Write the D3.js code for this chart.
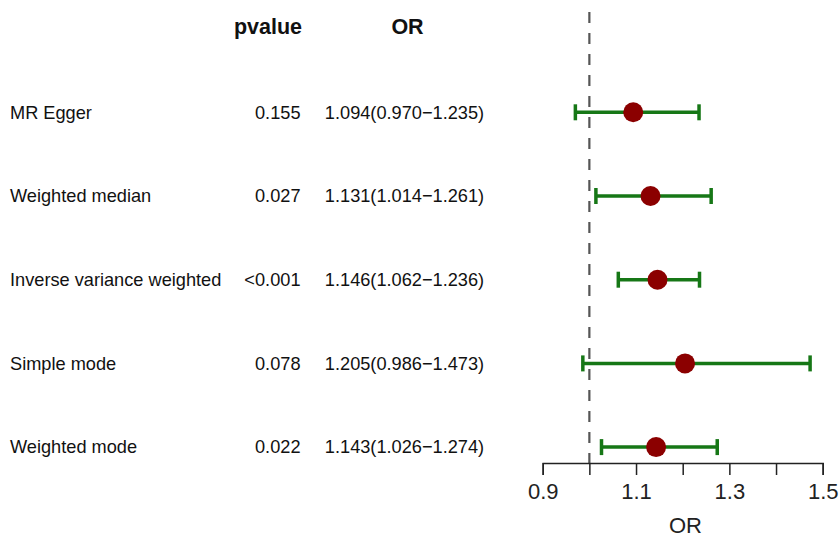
<!DOCTYPE html>
<html><head><meta charset="utf-8">
<script src="https://cdn.jsdelivr.net/npm/d3@7"></script>
<style>body{margin:0;background:#fff}svg{display:block}text{font-family:"Liberation Sans",Arial,sans-serif}</style>
</head><body>
<svg id="chart" width="840" height="539"></svg>
<script>
const methods = ["MR Egger","Weighted median","Inverse variance weighted","Simple mode","Weighted mode"];
const pvalues = ["0.155","0.027","<0.001","0.078","0.022"];
const orValues = [1.094,1.131,1.146,1.205,1.143];
const lowerCI = [0.970,1.014,1.062,0.986,1.026];
const upperCI = [1.235,1.261,1.236,1.473,1.274];
const tickValues = [0.9,1.0,1.1,1.2,1.3,1.4,1.5];
const tickLabels = ["0.9","","1.1","","1.3","","1.5"];

const svg = d3.select("#chart");
const x = d3.scaleLinear().domain([0.9,1.5]).range([542.7,822.7]);
const y = d3.scalePoint().domain(methods).range([112.3,447.1]);
const axisY = 463;

// headers
svg.append("text").attr("x",302).attr("y",33.5).attr("text-anchor","end")
  .attr("font-size",21.5).attr("font-weight","bold").attr("fill","#111").text("pvalue");
svg.append("text").attr("x",407.5).attr("y",33.5).attr("text-anchor","middle")
  .attr("font-size",21.5).attr("font-weight","bold").attr("fill","#111").text("OR");

// reference line
svg.append("line").attr("x1",x(1)).attr("x2",x(1)).attr("y1",12).attr("y2",axisY)
  .attr("stroke","#555").attr("stroke-width",2.2).attr("stroke-dasharray","11,10");

const rows = svg.selectAll("g.row").data(methods).join("g").attr("class","row");
rows.append("text").attr("x",10).attr("y",d=>y(d)+6.3).attr("font-size",18.2).attr("fill","#111").text(d=>d);
rows.append("text").attr("x",300.5).attr("y",d=>y(d)+6.3).attr("text-anchor","end")
  .attr("font-size",18.2).attr("fill","#111").text((d,i)=>pvalues[i]);
rows.append("text").attr("x",404.5).attr("y",d=>y(d)+6.3).attr("text-anchor","middle")
  .attr("font-size",18.2).attr("fill","#111")
  .text((d,i)=>orValues[i].toFixed(3)+"("+lowerCI[i].toFixed(3)+"\u2212"+upperCI[i].toFixed(3)+")");

const green = "#167716";
rows.append("line").attr("x1",(d,i)=>x(lowerCI[i])).attr("x2",(d,i)=>x(upperCI[i]))
  .attr("y1",d=>y(d)).attr("y2",d=>y(d)).attr("stroke",green).attr("stroke-width",3.5);
rows.append("line").attr("x1",(d,i)=>x(lowerCI[i])).attr("x2",(d,i)=>x(lowerCI[i]))
  .attr("y1",d=>y(d)-8).attr("y2",d=>y(d)+8).attr("stroke",green).attr("stroke-width",3.5);
rows.append("line").attr("x1",(d,i)=>x(upperCI[i])).attr("x2",(d,i)=>x(upperCI[i]))
  .attr("y1",d=>y(d)-8).attr("y2",d=>y(d)+8).attr("stroke",green).attr("stroke-width",3.5);
rows.append("circle").attr("cx",(d,i)=>x(orValues[i])).attr("cy",d=>y(d)).attr("r",10).attr("fill","#8B0000");

// axis
const axis = d3.axisBottom(x).tickValues(tickValues).tickSize(12).tickPadding(8.4)
  .tickFormat((d,i)=>tickLabels[i]);
const ga = svg.append("g").attr("transform",`translate(0,${axisY})`).call(axis);
ga.select(".domain").attr("stroke","#222").attr("stroke-width",1.5);
ga.selectAll(".tick line").attr("stroke","#222").attr("stroke-width",1.5);
ga.selectAll(".tick text").attr("font-size",22).attr("fill","#222")
  .style("font-family",'"Liberation Sans",Arial,sans-serif');
svg.append("text").attr("x",685.5).attr("y",533).attr("text-anchor","middle")
  .attr("font-size",22).attr("fill","#222").text("OR");
</script>
</body></html>
